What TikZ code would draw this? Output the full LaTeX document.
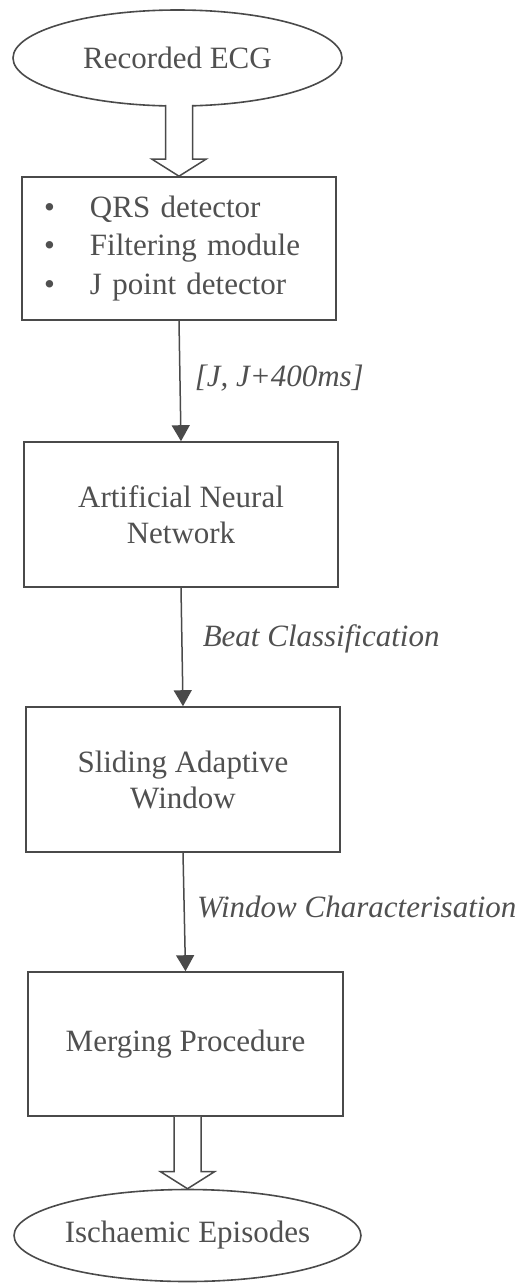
\documentclass[tikz,border=0pt]{standalone}
\usepackage{fontspec}
\setmainfont{Liberation Serif}
\usetikzlibrary{arrows.meta,calc,shapes.geometric}
\definecolor{ink}{HTML}{4A4A4A}
\definecolor{txt}{HTML}{505050}
\tikzset{
  base/.style={draw=ink, line width=1.6pt, fill=white, text=txt, font=\fontsize{31}{36}\selectfont},
  term/.style={base, ellipse, inner sep=0pt},
  procbox/.style={base, rectangle, inner sep=0pt, align=center},
  flow/.style={draw=ink, line width=1.5pt, -{Triangle[length=16pt,width=18pt]}},
  hollow/.style={draw=ink, line width=1.5pt, fill=white, line join=miter},
  flowlabel/.style={right, inner sep=0pt, text=txt, font=\fontsize{31}{36}\selectfont\itshape},
}
\begin{document}
\begin{tikzpicture}[x=1pt,y=-1pt]
\useasboundingbox (0,0) rectangle (529,1283);

\node[term, minimum width=329pt, minimum height=96pt] (e1) at (177.5,58) {Recorded ECG};
\node[procbox, minimum width=314pt, minimum height=143pt, text width=270pt, align=left, inner xsep=22pt,
      font=\fontsize{31}{38.5}\selectfont] (b1) at (179,248.5)
  {\makebox[46pt][l]{\textbullet}QRS detector\\
   \makebox[46pt][l]{\textbullet}Filtering module\\
   \makebox[46pt][l]{\textbullet}J point detector};
\node[procbox, minimum width=314pt, minimum height=145pt] (b2) at (181,514.5) {Artificial Neural\\Network};
\node[procbox, minimum width=314pt, minimum height=145pt] (b3) at (183,779.5) {Sliding Adaptive\\Window};
\node[procbox, minimum width=315pt, minimum height=144pt] (b4) at (185.5,1044) {Merging Procedure};
\node[term, minimum width=329pt, minimum height=92pt] (e2) at (187.5,1235.5) {Ischaemic Episodes};

% hollow arrows
\draw[hollow] ($(e1.south -| b1.north)+(-13.5,-2)$) -- ($(b1.north)+(-13.5,-17)$) -- ($(b1.north)+(-27,-17)$)
  -- (b1.north) -- ($(b1.north)+(27,-17)$) -- ($(b1.north)+(13.5,-17)$) -- ($(e1.south -| b1.north)+(13.5,-2)$);
\draw[hollow] ($(b4.south -| e2.north)+(-13.5,0)$) -- ($(e2.north)+(-13.5,-17)$) -- ($(e2.north)+(-27,-17)$)
  -- (e2.north) -- ($(e2.north)+(27,-17)$) -- ($(e2.north)+(13.5,-17)$) -- ($(b4.south -| e2.north)+(13.5,0)$);

% thin arrows
\draw[flow] (b1.south) -- node[flowlabel, xshift=14pt, yshift=3pt] {[J, J+400ms]} (b2.north);
\draw[flow] (b2.south) -- node[flowlabel, xshift=20pt, yshift=8pt] {Beat Classification} (b3.north);
\draw[flow] (b3.south) -- node[flowlabel, xshift=12pt, yshift=5pt] {Window Characterisation} (b4.north);
\end{tikzpicture}
\end{document}
